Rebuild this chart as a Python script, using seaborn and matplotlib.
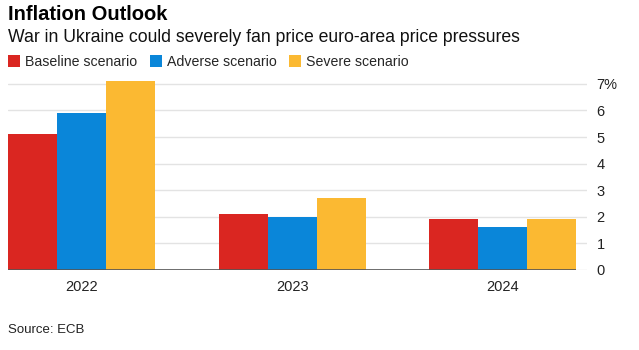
import matplotlib
matplotlib.use("Agg")
import matplotlib.pyplot as plt
import pandas as pd
import seaborn as sns

# ECB inflation projections, March 2022
years = ["2022", "2023", "2024"]
scenarios = ["Baseline scenario", "Adverse scenario", "Severe scenario"]
baseline = [5.1, 2.1, 1.9]
adverse = [5.9, 2.0, 1.6]
severe = [7.1, 2.7, 1.9]
colors = ["#da2621", "#0a86d9", "#fbb932"]
ytick_vals = [0, 1, 2, 3, 4, 5, 6, 7]
ytick_labels = ["0", "1", "2", "3", "4", "5", "6", "7%"]

df = pd.DataFrame({
    "year": years * 3,
    "scenario": [s for s in scenarios for _ in years],
    "value": baseline + adverse + severe,
})

sns.set_theme(style="white")
plt.rcParams["font.family"] = ["Liberation Sans", "DejaVu Sans"]

fig = plt.figure(figsize=(6.39, 3.5), dpi=100)
ax = fig.add_axes([8 / 639, 0.2286, 579 / 639, 0.5471])

sns.barplot(data=df, x="year", y="value", hue="scenario", palette=colors,
            width=0.7, gap=0, saturation=1, linewidth=0, ax=ax, legend=True)

ax.set_xlim(-0.35, 2.40)
ax.set_ylim(0, 7.2)
ax.set_yticks(ytick_vals)
ax.set_yticklabels(ytick_labels)
ax.yaxis.tick_right()
ax.grid(axis="y", color="#e3e3e3", linewidth=1)
ax.set_axisbelow(True)
for sp in ax.spines.values():
    sp.set_visible(False)
ax.tick_params(axis="y", length=0, pad=7, labelsize=10.5, colors="#222222")
ax.tick_params(axis="x", length=0, pad=7, labelsize=10.5, colors="#222222")
ax.set_xlabel("")
ax.set_ylabel("")

# dark baseline under the bars only
lefts = [p.get_x() for p in ax.patches if p.get_width() > 0]
rights = [p.get_x() + p.get_width() for p in ax.patches if p.get_width() > 0]
ax.hlines(0, min(lefts), max(rights), color="#555555", linewidth=1.2, zorder=3)

handles, labels = ax.get_legend_handles_labels()
ax.get_legend().remove()
fig.legend(handles, labels, loc="center left", bbox_to_anchor=(8 / 639, 1 - 62 / 350),
           ncol=3, frameon=False, fontsize=10.2, handlelength=0.85, handleheight=0.85,
           handletextpad=0.35, columnspacing=0.9, borderpad=0, borderaxespad=0)

fig.text(8 / 639, 1 - 14 / 350, "Inflation Outlook", fontsize=14.5, fontweight="bold",
         va="center", ha="left", color="#000000")
fig.text(8 / 639, 1 - 38 / 350, "War in Ukraine could severely fan price euro-area price pressures",
         fontsize=12.7, va="center", ha="left", color="#111111")
fig.text(8 / 639, 1 - 330 / 350, "Source: ECB", fontsize=9.5, va="center", ha="left",
         color="#222222")

fig.savefig("out.png", dpi=100)
